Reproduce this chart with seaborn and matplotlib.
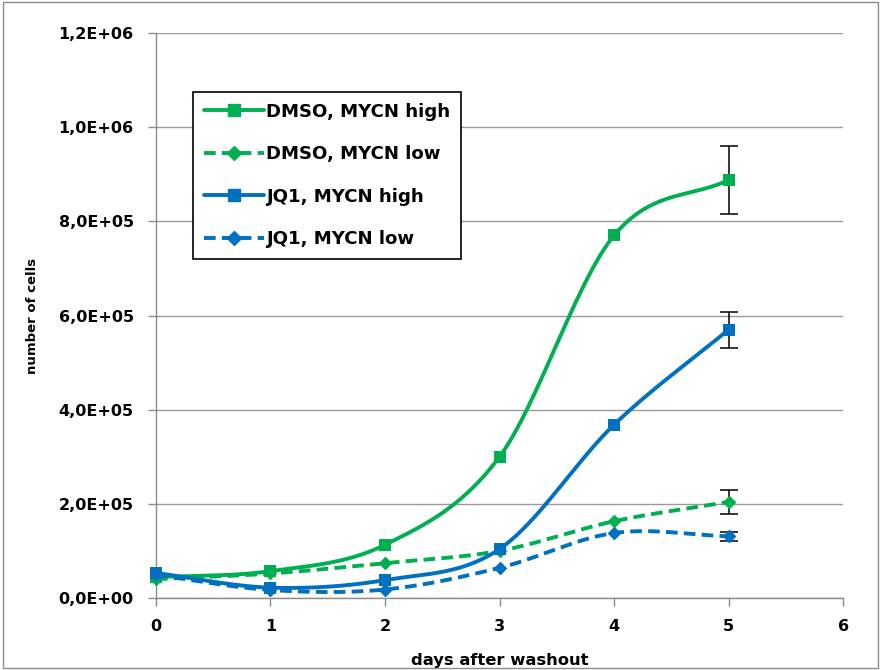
import numpy as np
import matplotlib.pyplot as plt
import seaborn as sns
from matplotlib.lines import Line2D
from matplotlib.ticker import FuncFormatter

# data
days = [0, 1, 2, 3, 4, 5]
dmso_high = [44000, 57000, 113000, 300000, 770000, 888000]
dmso_low = [40000, 52000, 74000, 100000, 163000, 204000]
jq1_high = [53000, 22000, 38000, 104000, 368000, 570000]
jq1_low = [49000, 17000, 18000, 64000, 138000, 131000]
# error bars only on the last day
err_day = 5
dmso_high_err = 73000
dmso_low_err = 25000
jq1_high_err = 38000
jq1_low_err = 10000

green = "#00B050"
blue = "#0070C0"

series = [
    ("DMSO, MYCN high", dmso_high, dmso_high_err, green, "-", "s", 9.3),
    ("DMSO, MYCN low", dmso_low, dmso_low_err, green, (0, (3, 1.6)), "D", 7),
    ("JQ1, MYCN high", jq1_high, jq1_high_err, blue, "-", "s", 9.3),
    ("JQ1, MYCN low", jq1_low, jq1_low_err, blue, (0, (3, 1.6)), "D", 7),
]


def smooth(x, y, n=40):
    # Catmull-Rom style smoothing, like Excel's smoothed lines
    x = np.asarray(x, float)
    y = np.asarray(y, float)
    px = np.concatenate([[2 * x[0] - x[1]], x, [2 * x[-1] - x[-2]]])
    py = np.concatenate([[2 * y[0] - y[1]], y, [2 * y[-1] - y[-2]]])
    xs, ys = [], []
    for i in range(1, len(px) - 2):
        t = np.linspace(0, 1, n)
        for arr, out in ((px, xs), (py, ys)):
            p0, p1, p2, p3 = arr[i - 1], arr[i], arr[i + 1], arr[i + 2]
            m1 = (p2 - p0) / 2
            m2 = (p3 - p1) / 2
            h00 = 2 * t**3 - 3 * t**2 + 1
            h10 = t**3 - 2 * t**2 + t
            h01 = -2 * t**3 + 3 * t**2
            h11 = t**3 - t**2
            out.extend(h00 * p1 + h10 * m1 + h01 * p2 + h11 * m2)
    return np.array(xs), np.array(ys)


sns.set_theme(style="white")
plt.rcParams["font.family"] = ["DejaVu Sans"]
plt.rcParams["text.color"] = "black"
plt.rcParams["axes.labelcolor"] = "black"
plt.rcParams["xtick.color"] = "black"
plt.rcParams["ytick.color"] = "black"

fig = plt.figure(figsize=(8.81, 6.7), dpi=100)
ax = fig.add_axes([0.177, 0.1075, 0.78, 0.8432])

handles = []
for name, vals, err, col, ls, mk, ms in series:
    sx, sy = smooth(days, vals)
    ax.plot(sx, sy, color=col, lw=2.8, ls=ls, zorder=3, clip_on=False)
    ax.errorbar([err_day], [vals[err_day]], yerr=[err], fmt="none",
                ecolor="black", elinewidth=1.1, capsize=6.5, capthick=1.1, zorder=4)
    sns.scatterplot(x=days, y=vals, marker=mk, s=ms**2, color=col,
                    edgecolor=col, linewidth=0, ax=ax, zorder=5, clip_on=False)
    handles.append(Line2D([], [], color=col, lw=2.8, ls=ls, marker=mk,
                          markersize=ms, markeredgecolor=col, label=name))

ax.set_xlim(0, 6)
ax.set_ylim(0, 1.2e6)
ax.set_xticks(range(0, 7))
ax.set_yticks(np.arange(0, 1.2e6 + 1, 2e5))
ax.yaxis.set_major_formatter(FuncFormatter(
    lambda v, p: ("%.1E" % v).replace(".", ",")))
ax.yaxis.grid(True, color="#9a9a9a", lw=1)
ax.xaxis.grid(False)
for s in ["top", "right"]:
    ax.spines[s].set_visible(False)
for s in ["left", "bottom"]:
    ax.spines[s].set_color("#8c8c8c")
    ax.spines[s].set_linewidth(1)
ax.tick_params(axis="both", direction="out", length=6, width=1,
               color="#8c8c8c", labelcolor="black", labelsize=11.5,
               left=True, bottom=True)
ax.tick_params(axis="y", pad=10)
ax.tick_params(axis="x", pad=9)
for lab in ax.get_xticklabels() + ax.get_yticklabels():
    lab.set_fontweight("bold")

ax.set_ylabel("number of cells", fontsize=9.5, fontweight="bold", labelpad=14)
ax.set_xlabel("days after washout", fontsize=11.8, fontweight="bold", labelpad=14)

leg = ax.legend(handles=handles, loc="upper left", bbox_to_anchor=(0.054, 0.896),
                borderaxespad=0, frameon=True, fancybox=False, edgecolor="black",
                framealpha=1, prop={"weight": "bold", "size": 13.1},
                handlelength=3.3, handletextpad=0.1, labelspacing=1.35,
                borderpad=0.6)
leg.get_frame().set_linewidth(1.2)

fig.patches.append(plt.Rectangle((0.003, 0.003), 0.994, 0.994, transform=fig.transFigure,
                                 fill=False, edgecolor="#8c8c8c", lw=1))

fig.savefig("out.png", dpi=100)
